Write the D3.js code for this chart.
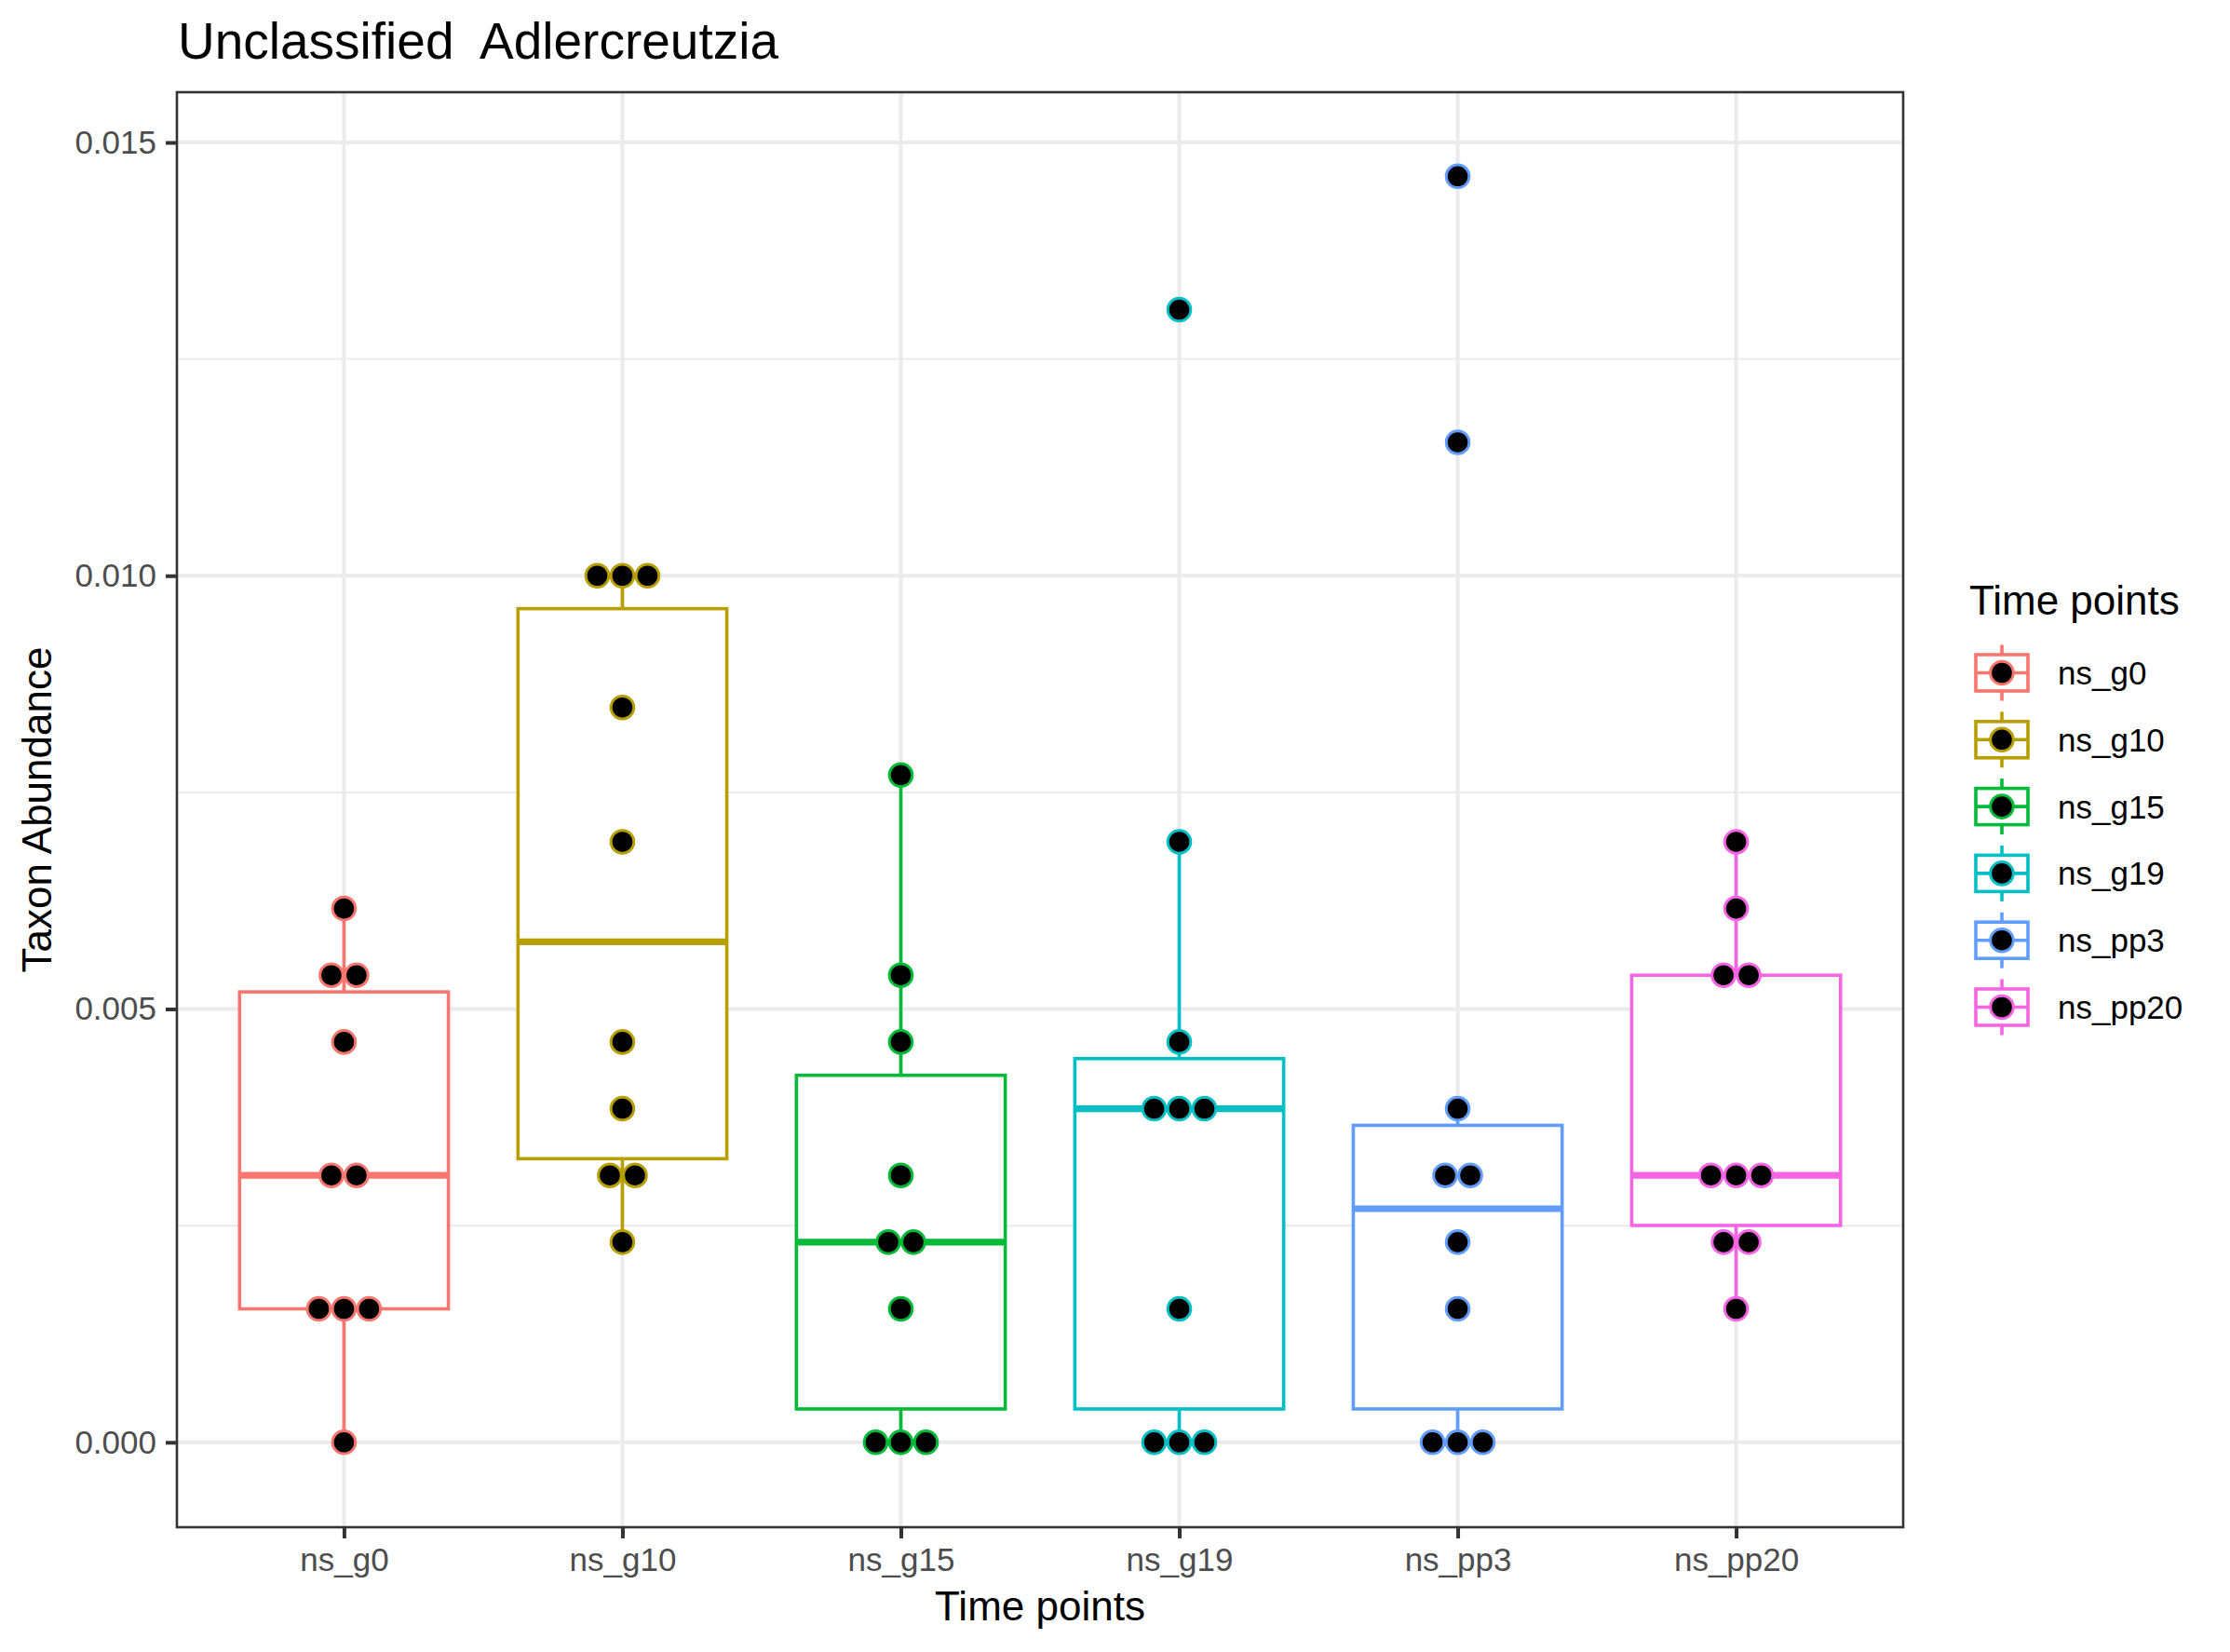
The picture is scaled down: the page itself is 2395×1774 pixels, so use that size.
<html>
<script src="https://d3js.org/d3.v7.min.js"></script>
<body style="margin:0;background:#fff">
</body>
<script>
    var W = 2395, H = 1774;
    var margin = {top: 99, right: 351, bottom: 134, left: 190};
    var width = W - margin.left - margin.right,
        height = H - margin.top - margin.bottom;

    // data
    let groups = ["ns_g0", "ns_g10", "ns_g15", "ns_g19", "ns_pp3", "ns_pp20"];
    let colors = ["#F8766D", "#B79F00", "#00BA38", "#00BFC4", "#619CFF", "#F564E3"];
    let ns_g0   = [0.00616, 0.00539, 0.00539, 0.00462, 0.00308, 0.00308, 0.00154, 0.00154, 0.00154, 0];
    let ns_g10  = [0.01, 0.01, 0.01, 0.00848, 0.00693, 0.00462, 0.00385, 0.00308, 0.00308, 0.00231];
    let ns_g15  = [0.0077, 0.00539, 0.00462, 0.00308, 0.00231, 0.00231, 0.00154, 0, 0, 0];
    let ns_g19  = [0.01307, 0.00693, 0.00462, 0.00385, 0.00385, 0.00385, 0.00154, 0, 0, 0];
    let ns_pp3  = [0.01461, 0.01154, 0.00385, 0.00308, 0.00308, 0.00231, 0.00154, 0, 0, 0];
    let ns_pp20 = [0.00693, 0.00616, 0.00539, 0.00539, 0.00308, 0.00308, 0.00308, 0.00231, 0.00231, 0.00154];
    let values = [ns_g0, ns_g10, ns_g15, ns_g19, ns_pp3, ns_pp20];
    let yTicks = [0, 0.005, 0.010, 0.015];
    let yMinor = [0.0025, 0.0075, 0.0125];

    let font = "'Liberation Sans', Arial, Helvetica, sans-serif";

    let svg = d3.select("body").append("svg")
        .attr("width", W)
        .attr("height", H)
        .style("font-family", font);

    svg.append("rect").attr("width", W).attr("height", H).attr("fill", "white");

    let x = d3.scalePoint()
        .domain(groups)
        .range([margin.left, margin.left + width])
        .padding(0.6);
    let step = x.step();
    let boxW = step * 0.75;

    let y = d3.scaleLinear()
        .domain([-0.00098, 0.01558])
        .range([margin.top + height, margin.top]);

    let color = d3.scaleOrdinal().domain(groups).range(colors);

    // grid
    let grid = svg.append("g");
    yMinor.forEach(t =>
        grid.append("line")
            .attr("x1", margin.left).attr("x2", margin.left + width)
            .attr("y1", y(t)).attr("y2", y(t))
            .attr("stroke", "#EBEBEB").attr("stroke-width", 2)
    );
    yTicks.forEach(t =>
        grid.append("line")
            .attr("x1", margin.left).attr("x2", margin.left + width)
            .attr("y1", y(t)).attr("y2", y(t))
            .attr("stroke", "#EBEBEB").attr("stroke-width", 4)
    );
    groups.forEach(g =>
        grid.append("line")
            .attr("x1", x(g)).attr("x2", x(g))
            .attr("y1", margin.top).attr("y2", margin.top + height)
            .attr("stroke", "#EBEBEB").attr("stroke-width", 4)
    );

    // box stats, R type 7 quantiles
    function boxStats(v) {
        let s = v.slice().sort(d3.ascending);
        let q1 = d3.quantile(s, 0.25), med = d3.quantile(s, 0.5), q3 = d3.quantile(s, 0.75);
        let iqr = q3 - q1;
        let lo = d3.min(s.filter(d => d >= q1 - 1.5 * iqr));
        let hi = d3.max(s.filter(d => d <= q3 + 1.5 * iqr));
        return {q1: q1, med: med, q3: q3, lo: lo, hi: hi};
    }

    let boxes = svg.append("g");
    for (var i = 0; i < groups.length; i++) {
        let g = groups[i];
        let st = boxStats(values[i]);
        let c = color(g);
        let cx = x(g);
        boxes.append("line")
            .attr("x1", cx).attr("x2", cx)
            .attr("y1", y(st.q3)).attr("y2", y(st.hi))
            .attr("stroke", c).attr("stroke-width", 3.6);
        boxes.append("line")
            .attr("x1", cx).attr("x2", cx)
            .attr("y1", y(st.q1)).attr("y2", y(st.lo))
            .attr("stroke", c).attr("stroke-width", 3.6);
        boxes.append("rect")
            .attr("x", cx - boxW / 2).attr("width", boxW)
            .attr("y", y(st.q3)).attr("height", y(st.q1) - y(st.q3))
            .attr("fill", "white").attr("stroke", c).attr("stroke-width", 3.6);
        boxes.append("line")
            .attr("x1", cx - boxW / 2).attr("x2", cx + boxW / 2)
            .attr("y1", y(st.med)).attr("y2", y(st.med))
            .attr("stroke", c).attr("stroke-width", 7.2);
    }

    // centred dot stacks
    let dotD = 27;
    let dots = svg.append("g");
    for (var i = 0; i < groups.length; i++) {
        let g = groups[i];
        let bins = d3.groups(values[i], d => d);
        bins.forEach(b => {
            let n = b[1].length;
            b[1].forEach((v, k) => {
                dots.append("circle")
                    .attr("cx", x(g) + (k - (n - 1) / 2) * dotD)
                    .attr("cy", y(v))
                    .attr("r", 12.3)
                    .attr("fill", "black")
                    .attr("stroke", color(g))
                    .attr("stroke-width", 3);
            });
        });
    }

    // panel border
    svg.append("rect")
        .attr("x", margin.left).attr("y", margin.top)
        .attr("width", width).attr("height", height)
        .attr("fill", "none").attr("stroke", "#333333").attr("stroke-width", 2.6);

    // axes
    let yAxis = svg.append("g")
        .attr("transform", "translate(" + margin.left + ",0)")
        .call(d3.axisLeft(y).tickValues(yTicks).tickFormat(d3.format(".3f")).tickSize(12).tickPadding(10));
    let xAxis = svg.append("g")
        .attr("transform", "translate(0," + (margin.top + height) + ")")
        .call(d3.axisBottom(x).tickSize(12).tickPadding(10));
    [yAxis, xAxis].forEach(a => {
        a.select(".domain").remove();
        a.selectAll(".tick line").attr("stroke", "#333333").attr("stroke-width", 4);
        a.selectAll(".tick text")
            .attr("fill", "#4D4D4D")
            .style("font-size", "35px")
            .style("font-family", font);
    });
    xAxis.selectAll(".tick text").attr("dy", "0.71em");

    // titles
    svg.append("text")
        .attr("x", 191).attr("y", 63)
        .style("font-size", "55px")
        .style("white-space", "pre")
        .attr("xml:space", "preserve")
        .text("Unclassified  Adlercreutzia");

    svg.append("text")
        .attr("x", margin.left + width / 2).attr("y", 1740)
        .attr("text-anchor", "middle")
        .style("font-size", "44px")
        .text("Time points");

    svg.append("text")
        .attr("transform", "translate(55," + (margin.top + height / 2) + ") rotate(-90)")
        .attr("text-anchor", "middle")
        .style("font-size", "44px")
        .text("Taxon Abundance");

    // legend
    let leg = svg.append("g");
    leg.append("text")
        .attr("x", 2115).attr("y", 660)
        .style("font-size", "44px")
        .text("Time points");
    let keyStep = 71.8;
    for (var i = 0; i < groups.length; i++) {
        let g = groups[i];
        let c = color(g);
        let cy = 722.5 + i * keyStep;
        let cx = 2150;
        leg.append("line")
            .attr("x1", cx).attr("x2", cx)
            .attr("y1", cy - 30).attr("y2", cy + 30)
            .attr("stroke", c).attr("stroke-width", 3.6);
        leg.append("rect")
            .attr("x", cx - 28).attr("y", cy - 19.5)
            .attr("width", 56).attr("height", 39)
            .attr("fill", "white").attr("stroke", c).attr("stroke-width", 3.6);
        leg.append("line")
            .attr("x1", cx - 28).attr("x2", cx + 28)
            .attr("y1", cy).attr("y2", cy)
            .attr("stroke", c).attr("stroke-width", 3.6);
        leg.append("circle")
            .attr("cx", cx).attr("cy", cy).attr("r", 12.3)
            .attr("fill", "black").attr("stroke", c).attr("stroke-width", 3);
        leg.append("text")
            .attr("x", 2210).attr("y", cy + 12.5)
            .style("font-size", "35px")
            .text(g);
    }
</script>
</html>
